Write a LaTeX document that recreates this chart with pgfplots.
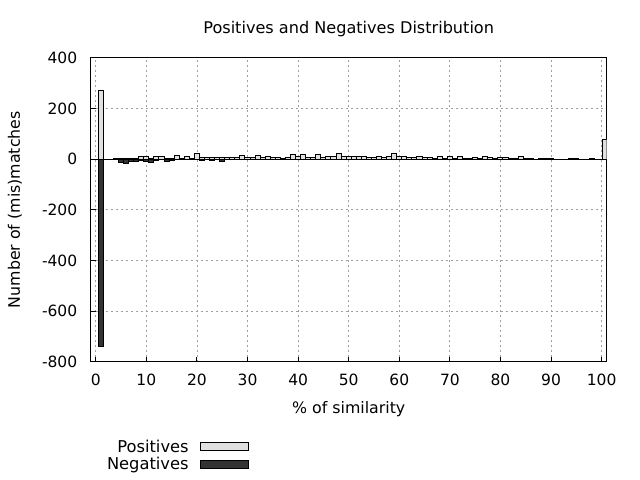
\documentclass[border=0pt]{standalone}
\usepackage{pgfplots}
\usepackage{pgfplotstable}
\pgfplotsset{compat=1.18}
\usepackage{fontspec}
\setmainfont{DejaVu Sans}
\definecolor{poscol}{HTML}{E0E0E0}
\definecolor{negcol}{HTML}{333333}
\definecolor{gridcol}{HTML}{A0A0A0}

\pgfplotstableread{
x y
1 270
4 1
5 2
6 3
7 3
8 4
9 8
10 8
11 4
12 8
13 8
14 3
15 4
16 13
17 4
18 8
19 4
20 23
21 5
22 5
23 5
24 5
25 5
26 5
27 5
28 5
29 12
30 5
31 5
32 12
33 5
34 11
35 7
36 6
37 3
38 6
39 16
40 10
41 16
42 7
43 7
44 16
45 5
46 10
47 10
48 20
49 10
50 10
51 10
52 10
53 8
54 5
55 5
56 10
57 7
58 10
59 20
60 10
61 8
62 6
63 6
64 10
65 6
66 6
67 3
68 11
69 3
70 11
71 3
72 11
73 3
74 2
75 7
76 2
77 11
78 7
79 2
80 6
81 6
82 2
83 2
84 9
85 2
86 2
88 2
89 2
90 2
94 2
95 2
98 2
100.6 78
}\postable

\pgfplotstableread{
x y
1 -740
4 -2
5 -13
6 -19
7 -10
8 -9
9 -5
10 -8
11 -12
12 -5
14 -10
15 -6
19 -2
21 -4
23 -4
25 -8
}\negtable

\begin{document}
\begin{tikzpicture}[font=\fontsize{15.5bp}{18bp}\selectfont]
\path[use as bounding box] (0,0) rectangle (640bp,480bp);
\begin{axis}[
  at={(90.7bp,118.3bp)}, anchor=south west,
  scale only axis, width=516bp, height=304bp,
  xmin=-1, xmax=101, ymin=-800, ymax=400,
  ybar, bar width=1,
  xtick={0,10,...,100},
  xticklabels={0,10,20,30,40,50,60,70,80,90,100},
  ytick={-800,-600,-400,-200,0,200,400},
  yticklabels={-800,-600,-400,-200,0,200,400},
  tick align=inside, xtick pos=bottom, ytick pos=left,
  major tick length=5bp,
  every tick/.style={black, line width=1bp},
  axis line style={black, line width=1bp},
  grid=major,
  major grid style={gridcol, dash pattern=on 2bp off 3bp, line width=0.8bp},
  extra y ticks={0}, extra y tick labels={},
  extra y tick style={major tick length=0pt, major grid style={black, solid, line width=1bp}},
  yticklabel style={anchor=east, xshift=-10bp},
  xticklabel style={anchor=north, yshift=-8.8bp},
  title={Positives and Negatives Distribution},
  title style={at={(axis description cs:0.5,1.0592)}, anchor=base, inner sep=0pt,
    font=\fontsize{16.1bp}{19bp}\selectfont},
  xlabel={\% of similarity},
  xlabel style={at={(axis description cs:0.5,-0.1704)}, anchor=base, inner sep=0pt,
    font=\fontsize{15.8bp}{19bp}\selectfont},
  ylabel={Number of (mis)matches},
  ylabel style={at={(axis description cs:-0.1371,0.5)}, anchor=base, inner sep=0pt,
    font=\fontsize{15.8bp}{19bp}\selectfont},
  legend style={at={(axis description cs:0.3065,-0.25)}, anchor=north east,
    draw=none, fill=none, inner sep=0pt, row sep=-0.5bp,
    font=\fontsize{16.3bp}{19bp}\selectfont,
    nodes={inner sep=2bp}, /tikz/every odd column/.append style={column sep=9bp}},
  legend plot pos=right, legend cell align=right,
]
\addplot[bar shift=0pt, fill=poscol, draw=black, line width=1bp,
  legend image code/.code={\draw[fill=poscol, draw=black, line width=1bp] (0bp,-4bp) rectangle (48bp,4bp);}]
  table[x=x, y=y] {\postable};
\addlegendentry{Positives}
\addplot[bar shift=0pt, fill=negcol, draw=black, line width=1bp,
  legend image code/.code={\draw[fill=negcol, draw=black, line width=1bp] (0bp,-4bp) rectangle (48bp,4bp);}]
  table[x=x, y=y] {\negtable};
\addlegendentry{Negatives}
\end{axis}
\end{tikzpicture}
\end{document}
